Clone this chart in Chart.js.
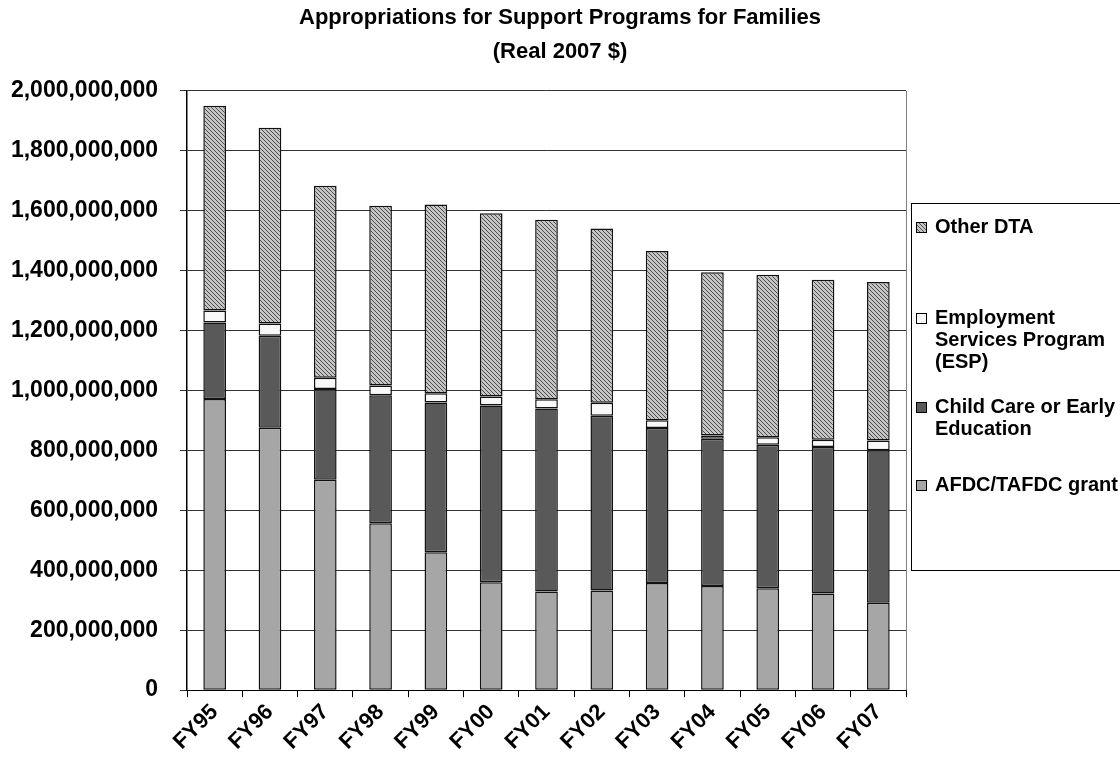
<!DOCTYPE html>
<html>
<head>
<meta charset="utf-8">
<script src="https://cdn.jsdelivr.net/npm/chart.js@4/dist/chart.umd.min.js"></script>
<style>
  html, body { margin: 0; padding: 0; background: #fff; }
  #wrap { position: relative; width: 1120px; height: 773px; }
</style>
</head>
<body>
<div id="wrap"><canvas id="fundingChart"></canvas></div>
<script>
// fiscal years on the x axis
const years = ['FY95', 'FY96', 'FY97', 'FY98', 'FY99', 'FY00', 'FY01', 'FY02', 'FY03', 'FY04', 'FY05', 'FY06', 'FY07'];

// appropriations, real 2007 dollars
const afdcGrant = [972e6, 876e6, 702e6, 557e6, 460e6, 360e6, 329e6, 333e6, 358e6, 348e6, 340e6, 323e6, 292e6];
const childCare = [255e6, 307e6, 303e6, 427e6, 500e6, 590e6, 611e6, 583e6, 517e6, 491e6, 479e6, 489e6, 509e6];
const esp = [40e6, 41e6, 38e6, 33e6, 31e6, 30e6, 31e6, 43e6, 26e6, 11e6, 25e6, 24e6, 32e6];
const otherDTA = [684e6, 653e6, 641e6, 600e6, 630e6, 612e6, 599e6, 582e6, 565e6, 545e6, 543e6, 534e6, 529e6];

const yTicks = [0, 200e6, 400e6, 600e6, 800e6, 1000e6, 1200e6, 1400e6, 1600e6, 1800e6, 2000e6];

const FONT = '"Liberation Sans", Arial, sans-serif';

// fine diagonal hatch used by "Other DTA"
function hatch() {
  const c = document.createElement('canvas');
  c.width = 4; c.height = 4;
  const g = c.getContext('2d');
  g.fillStyle = '#c4c4c4';
  g.fillRect(0, 0, 4, 4);
  g.fillStyle = '#4e4e4e';
  for (let i = 0; i < 4; i++) g.fillRect(i, i, 1, 1);
  return g.createPattern(c, 'repeat');
}

const canvas = document.getElementById('fundingChart');
const ctx = canvas.getContext('2d');
const hatchFill = hatch();

// multi line legend labels, top to bottom
const legendLines = {
  'Other DTA': ['Other DTA'],
  'Employment Services Program (ESP)': ['Employment', 'Services Program', '(ESP)'],
  'Child Care or Early Education': ['Child Care or Early', 'Education'],
  'AFDC/TAFDC grant': ['AFDC/TAFDC grant']
};
const legendTops = { 'Other DTA': 227, 'Employment Services Program (ESP)': 318, 'Child Care or Early Education': 407, 'AFDC/TAFDC grant': 485 };

const boxLegend = {
  id: 'boxLegend',
  afterDraw(chart) {
    const c = chart.ctx;
    c.save();
    c.strokeStyle = '#000';
    c.lineWidth = 1;
    c.strokeRect(911.5, 203.5, 230, 367);
    c.font = 'bold 20px ' + FONT;
    c.textBaseline = 'middle';
    chart.data.datasets.forEach(ds => {
      const y0 = legendTops[ds.label];
      c.fillStyle = ds.backgroundColor;
      c.fillRect(916, y0 - 5, 11, 11);
      c.strokeStyle = '#000';
      c.strokeRect(916.5, y0 - 4.5, 10, 10);
      c.fillStyle = '#000';
      legendLines[ds.label].forEach((t, i) => c.fillText(t, 935, y0 + i * 22));
    });
    // right border of the plot
    const a = chart.chartArea;
    c.strokeStyle = '#808080';
    c.beginPath();
    c.moveTo(Math.round(a.right) + 0.5, a.top);
    c.lineTo(Math.round(a.right) + 0.5, a.bottom);
    c.stroke();
    c.restore();
  }
};

const fundingChart = new Chart(ctx, {
  type: 'bar',
  data: {
    labels: years,
    datasets: [
      { label: 'AFDC/TAFDC grant', data: afdcGrant, backgroundColor: '#a6a6a6' },
      { label: 'Child Care or Early Education', data: childCare, backgroundColor: '#595959' },
      { label: 'Employment Services Program (ESP)', data: esp, backgroundColor: '#f8f8f8' },
      { label: 'Other DTA', data: otherDTA, backgroundColor: hatchFill }
    ]
  },
  options: {
    responsive: true,
    maintainAspectRatio: false,
    animation: false,
    datasets: {
      bar: {
        borderColor: '#111',
        borderWidth: 1.5,
        borderSkipped: false,
        categoryPercentage: 1,
        barPercentage: 0.41
      }
    },
    layout: { padding: { left: 0, right: 0, top: 0, bottom: 16 } },
    scales: {
      x: {
        stacked: true,
        // keep room on the right for the legend box
        afterFit: axis => { axis.paddingLeft = 0; axis.paddingRight = 214; },
        grid: { drawOnChartArea: false, color: '#000', tickLength: 7, offset: true },
        border: { color: '#000', width: 1 },
        ticks: {
          color: '#000',
          font: { family: FONT, size: 22, weight: 'bold' },
          minRotation: 45,
          maxRotation: 45,
          padding: 2
        }
      },
      y: {
        stacked: true,
        min: 0,
        max: 2000e6,
        afterBuildTicks: axis => { axis.ticks = yTicks.map(v => ({ value: v })); },
        afterFit: axis => { axis.width = 187; },
        grid: { color: '#333', tickLength: 7, lineWidth: 1 },
        border: { color: '#000', width: 1.5 },
        ticks: {
          color: '#000',
          font: { family: FONT, size: 23, weight: 'bold' },
          padding: 22,
          callback: v => Number(v).toLocaleString('en-US')
        }
      }
    },
    plugins: {
      legend: { display: false },
      tooltip: { enabled: false },
      title: {
        display: true,
        text: ['Appropriations for Support Programs for Families', '(Real 2007 $)'],
        color: '#000',
        font: { family: FONT, size: 22, weight: 'bold', lineHeight: 1.545 },
        padding: { top: 1, bottom: 22 }
      }
    }
  },
  plugins: [boxLegend]
});
</script>
</body>
</html>
